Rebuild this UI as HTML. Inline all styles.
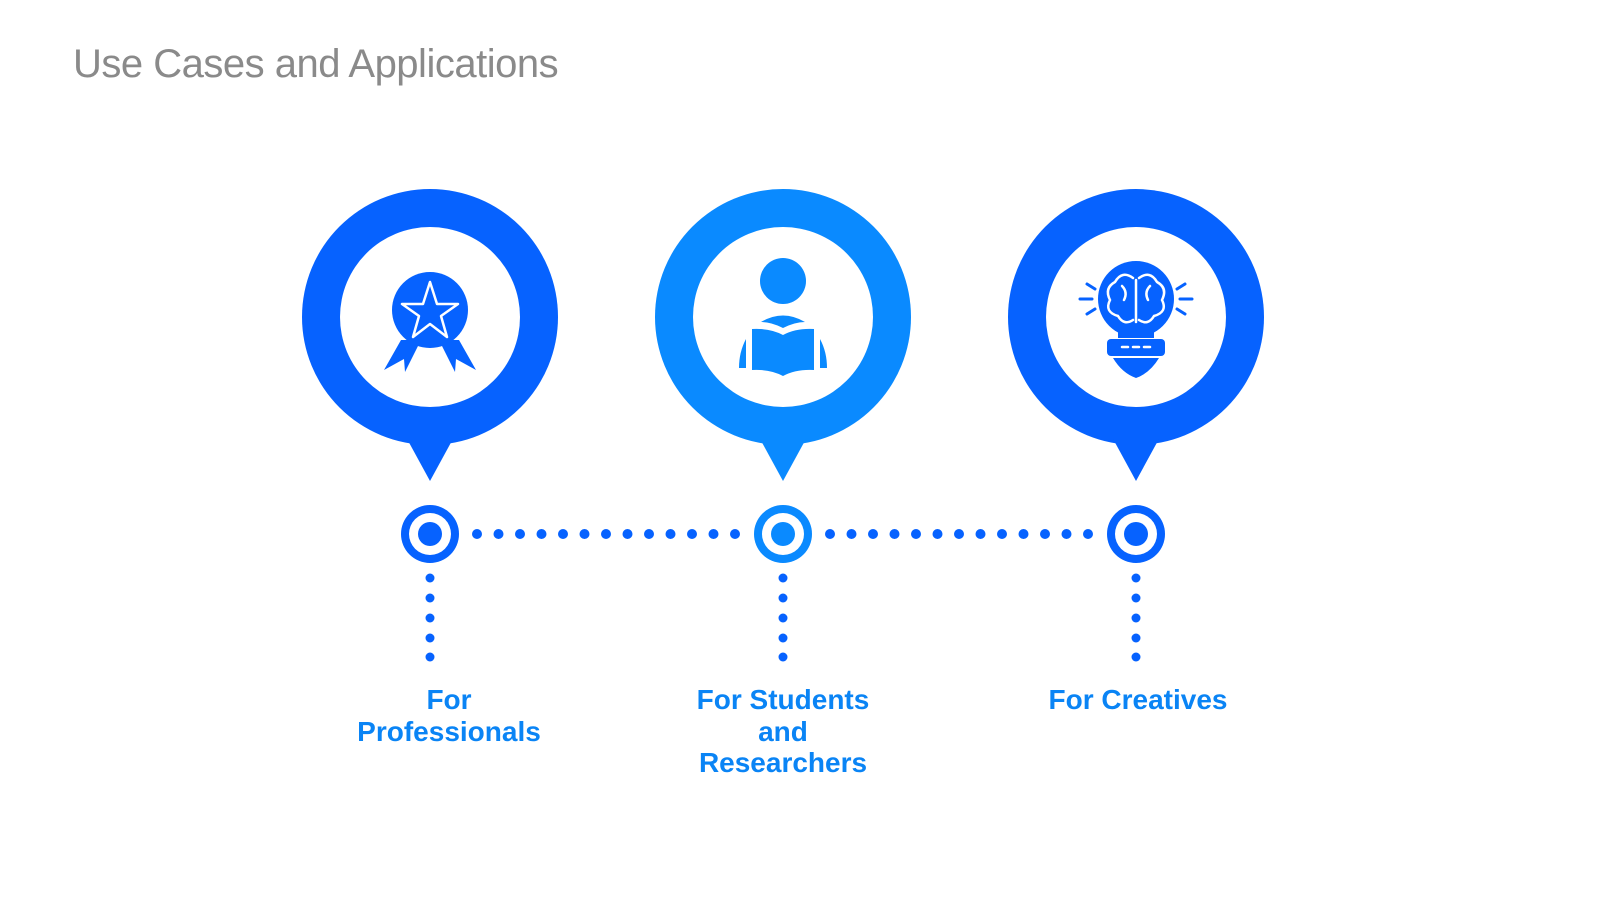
<!DOCTYPE html>
<html><head><meta charset="utf-8"><style>
body{margin:0;width:1600px;height:900px;background:#fff;overflow:hidden;font-family:"Liberation Sans",sans-serif}
.t{position:absolute;left:73px;top:42px;font-size:40px;color:#8a8a8a;letter-spacing:-0.5px}
.l{position:absolute;font-weight:bold;font-size:28px;line-height:31.5px;color:#0A84F5;text-align:center;width:260px}
</style></head><body>
<div class="t">Use Cases and Applications</div>
<svg width="1600" height="900" style="position:absolute;left:0;top:0">
<defs>
<g id="pin"><circle cx="0" cy="0" r="128"/><polygon points="-24,120 24,120 0,164"/></g>
</defs>
<g fill="#0662FF"><use href="#pin" x="430" y="317"/></g>
<g fill="#0A8AFF"><use href="#pin" x="783" y="317"/></g>
<g fill="#0662FF"><use href="#pin" x="1136" y="317"/></g>
<circle cx="430" cy="317" r="90" fill="#fff"/>
<circle cx="783" cy="317" r="90" fill="#fff"/>
<circle cx="1136" cy="317" r="90" fill="#fff"/>
<!-- award icon -->
<g fill="#0662FF">
<circle cx="430" cy="310" r="38"/>
<polygon points="401,340 384,370 404,359 405,372 421,340"/>
<polygon points="459,340 476,370 456,359 455,372 439,340"/>
</g>
<polygon points="430,282 437,304 458,304 441,316 447,337 430,324 413,337 419,316 402,304 423,304" fill="none" stroke="#fff" stroke-width="2.5" stroke-linejoin="round"/>
<!-- reader icon -->
<g fill="#0A8AFF">
<circle cx="783" cy="281" r="23"/>
<path d="M761,322 Q783,309 805,322 Q795,322 783,328 Q771,322 761,322Z"/>
<path d="M752,329 Q770,328 783,335 Q796,328 814,329 L814,370 Q796,369 783,376 Q770,369 752,370Z"/>
<path d="M746,339 L746,368 L739,368 Q739,352 746,339Z"/>
<path d="M820,339 L820,368 L827,368 Q827,352 820,339Z"/>
</g>
<!-- bulb icon -->
<g fill="#0662FF">
<circle cx="1136" cy="299" r="38"/>
<rect x="1118" y="320" width="36" height="18"/>
<rect x="1107" y="339" width="58" height="17" rx="4"/>
<path d="M1113,358 L1159,358 Q1150,373 1136,378 Q1122,373 1113,358Z"/>
</g>
<g stroke="#0662FF" stroke-width="3" stroke-linecap="round">
<line x1="1080" y1="299" x2="1092" y2="299"/><line x1="1087" y1="284" x2="1095" y2="289"/><line x1="1087" y1="314" x2="1095" y2="309"/>
<line x1="1180" y1="299" x2="1192" y2="299"/><line x1="1185" y1="284" x2="1177" y2="289"/><line x1="1185" y1="314" x2="1177" y2="309"/>
</g>
<g stroke="#fff" stroke-width="2.5" fill="none" stroke-linecap="round">
<path d="M1136,280 L1136,322"/>
<path d="M1133,278 Q1122,270 1115,282 Q1104,288 1110,300 Q1104,312 1118,316 Q1124,326 1133,320"/>
<path d="M1139,278 Q1150,270 1157,282 Q1168,288 1162,300 Q1168,312 1154,316 Q1148,326 1139,320"/>
<line x1="1122" y1="347" x2="1128" y2="347"/><line x1="1133" y1="347" x2="1139" y2="347"/><line x1="1144" y1="347" x2="1150" y2="347"/>
<path d="M1122,286 Q1128,292 1124,300"/><path d="M1150,286 Q1144,292 1148,300"/>
</g>
<!-- nodes -->
<g>
<circle cx="430" cy="534" r="29" fill="#0662FF"/><circle cx="430" cy="534" r="21" fill="#fff"/><circle cx="430" cy="534" r="12" fill="#0662FF"/>
<circle cx="783" cy="534" r="29" fill="#0A8AFF"/><circle cx="783" cy="534" r="21" fill="#fff"/><circle cx="783" cy="534" r="12" fill="#0A8AFF"/>
<circle cx="1136" cy="534" r="29" fill="#0662FF"/><circle cx="1136" cy="534" r="21" fill="#fff"/><circle cx="1136" cy="534" r="12" fill="#0662FF"/>
</g>
<g fill="#0662FF">
<circle cx="477" cy="534" r="5"/><circle cx="498.5" cy="534" r="5"/><circle cx="520" cy="534" r="5"/><circle cx="541.5" cy="534" r="5"/><circle cx="563" cy="534" r="5"/><circle cx="584.5" cy="534" r="5"/><circle cx="606" cy="534" r="5"/><circle cx="627.5" cy="534" r="5"/><circle cx="649" cy="534" r="5"/><circle cx="670.5" cy="534" r="5"/><circle cx="692" cy="534" r="5"/><circle cx="713.5" cy="534" r="5"/><circle cx="735" cy="534" r="5"/>
<circle cx="830" cy="534" r="5"/><circle cx="851.5" cy="534" r="5"/><circle cx="873" cy="534" r="5"/><circle cx="894.5" cy="534" r="5"/><circle cx="916" cy="534" r="5"/><circle cx="937.5" cy="534" r="5"/><circle cx="959" cy="534" r="5"/><circle cx="980.5" cy="534" r="5"/><circle cx="1002" cy="534" r="5"/><circle cx="1023.5" cy="534" r="5"/><circle cx="1045" cy="534" r="5"/><circle cx="1066.5" cy="534" r="5"/><circle cx="1088" cy="534" r="5"/>
</g>
<g fill="#0662FF">
<circle cx="430" cy="578" r="4.5"/><circle cx="430" cy="598" r="4.5"/><circle cx="430" cy="618" r="4.5"/><circle cx="430" cy="638" r="4.5"/><circle cx="430" cy="657" r="4.5"/>
<circle cx="783" cy="578" r="4.5"/><circle cx="783" cy="598" r="4.5"/><circle cx="783" cy="618" r="4.5"/><circle cx="783" cy="638" r="4.5"/><circle cx="783" cy="657" r="4.5"/>
<circle cx="1136" cy="578" r="4.5"/><circle cx="1136" cy="598" r="4.5"/><circle cx="1136" cy="618" r="4.5"/><circle cx="1136" cy="638" r="4.5"/><circle cx="1136" cy="657" r="4.5"/>
</g>
</svg>
<div class="l" style="left:319px;top:684px">For<br>Professionals</div>
<div class="l" style="left:653px;top:684px">For Students<br>and<br>Researchers</div>
<div class="l" style="left:1008px;top:684px">For Creatives</div>
</body></html>
